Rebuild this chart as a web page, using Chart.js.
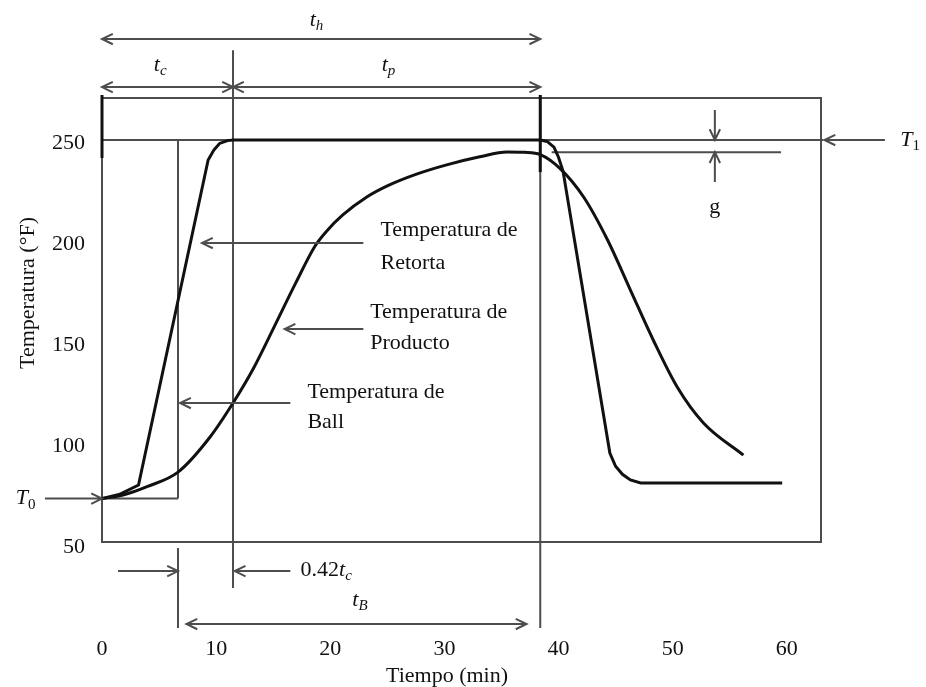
<!DOCTYPE html>
<html>
<head>
<meta charset="utf-8">
<script src="https://cdn.jsdelivr.net/npm/chart.js@4/dist/chart.umd.min.js"></script>
<style>
  html, body { margin: 0; background: #fff; }
</style>
</head>
<body>
<canvas id="grafica" width="926" height="687"></canvas>
<script>
// datos (tiempo en min, temperatura en °F)
const tiempoRetorta = [0, 1.5, 3.2, 9.3, 9.8, 10.3, 11.0, 11.5, 38.4, 39.0, 39.6, 40.0, 40.4, 44.5, 45.0, 45.6, 46.3, 47.2, 59.6];
const tempRetorta   = [74, 76, 80.7, 241.6, 246.5, 249.8, 251.2, 251.5, 251.5, 250.8, 248, 243, 236, 96.5, 90, 86, 83.2, 81.7, 81.7];

const tiempoProducto = [0, 2, 4, 6.66, 9.47, 11.48, 13.23, 15, 17, 18.67, 19.7, 21.1, 23.2, 25, 27.5, 30.2, 33.1, 35.5, 37, 38.4, 40.1, 42.2, 44.3, 46.3, 48.3, 50.4, 52.7, 56.2];
const tempProducto   = [74, 76, 80, 87.1, 104.5, 121.3, 138, 158, 181, 199, 206.5, 214.4, 223.3, 228.8, 234.5, 239.2, 243.2, 245.6, 245.4, 244.3, 237.6, 223.3, 202, 177.2, 152.5, 129.2, 111.4, 95.5];

const xTicks = [0, 10, 20, 30, 40, 50, 60];
const yTicks = [50, 100, 150, 200, 250];

// marcas de la figura
const T0 = 74, T1 = 251.5, Tg = 245.5;
const tBall = 6.66, tC = 11.48, tH = 38.4;

const serif = "'Liberation Serif', 'DejaVu Serif', serif";
const gris = "#4d4d4d";
const negro = "#111";

function flecha(ctx, x1, y1, x2, y2) {
    // linea con punta abierta en (x2, y2)
    ctx.beginPath();
    ctx.moveTo(x1, y1);
    ctx.lineTo(x2, y2);
    const a = Math.atan2(y2 - y1, x2 - x1);
    const l = 12;
    ctx.moveTo(x2 - l * Math.cos(a - 0.45), y2 - l * Math.sin(a - 0.45));
    ctx.lineTo(x2, y2);
    ctx.lineTo(x2 - l * Math.cos(a + 0.45), y2 - l * Math.sin(a + 0.45));
    ctx.stroke();
}

function flechaDoble(ctx, x1, y1, x2, y2) {
    flecha(ctx, x1, y1, x2, y2);
    flecha(ctx, x2, y2, x1, y1);
}

function linea(ctx, x1, y1, x2, y2) {
    ctx.beginPath();
    ctx.moveTo(x1, y1);
    ctx.lineTo(x2, y2);
    ctx.stroke();
}

// texto con subindice, centrado en x
function conSub(ctx, base, sub, x, y, italicSub, align) {
    ctx.font = "italic 22px " + serif;
    const w1 = ctx.measureText(base).width;
    ctx.font = (italicSub ? "italic " : "") + "15px " + serif;
    const w2 = ctx.measureText(sub).width;
    let x0 = align === "left" ? x : x - (w1 + w2) / 2;
    ctx.textAlign = "left";
    ctx.textBaseline = "middle";
    ctx.font = "italic 22px " + serif;
    ctx.fillText(base, x0, y);
    ctx.font = (italicSub ? "italic " : "") + "15px " + serif;
    ctx.fillText(sub, x0 + w1, y + 6);
}

const anotaciones = {
    id: "anotaciones",
    beforeDatasetsDraw(chart) {
        const ctx = chart.ctx;
        const a = chart.chartArea;
        const X = v => chart.scales.x.getPixelForValue(v);
        const Y = v => chart.scales.y.getPixelForValue(v);
        ctx.save();
        ctx.strokeStyle = gris;
        ctx.lineWidth = 2;
        ctx.strokeRect(a.left, a.top, a.right - a.left, a.bottom - a.top);

        // lineas de T1 y g
        linea(ctx, X(0), Y(T1), X(63.2), Y(T1));
        linea(ctx, X(39.4), Y(Tg), X(59.5), Y(Tg));

        // linea de Ball
        linea(ctx, X(tBall), Y(T1), X(tBall), Y(T0));
        linea(ctx, X(0), Y(T0), X(tBall), Y(T0));
        linea(ctx, X(tBall), Y(49.5), X(tBall), Y(9.9));

        // verticales tc y th
        linea(ctx, X(tC), Y(296), X(tC), Y(29.7));
        linea(ctx, X(tH), Y(273.8), X(tH), Y(9.9));
        ctx.restore();
    },
    afterDatasetsDraw(chart) {
        const ctx = chart.ctx;
        const X = v => chart.scales.x.getPixelForValue(v);
        const Y = v => chart.scales.y.getPixelForValue(v);
        ctx.save();
        ctx.strokeStyle = negro;
        ctx.lineWidth = 3;
        linea(ctx, X(0), Y(273.8), X(0), Y(242.6));
        linea(ctx, X(tH), Y(273.8), X(tH), Y(235.6));

        ctx.strokeStyle = gris;
        ctx.lineWidth = 2;
        // flechas superiores
        flechaDoble(ctx, X(0), Y(301.5), X(tH), Y(301.5));
        flechaDoble(ctx, X(0), Y(277.7), X(tC), Y(277.7));
        flechaDoble(ctx, X(tC), Y(277.7), X(tH), Y(277.7));

        // flechas inferiores
        flecha(ctx, X(1.4), Y(38.1), X(tBall), Y(38.1));
        flecha(ctx, X(16.5), Y(38.1), X(tC + 0.15), Y(38.1));
        flechaDoble(ctx, X(7.4), Y(11.9), X(37.2), Y(11.9));

        // T0 y T1
        flecha(ctx, X(-5), Y(T0), X(0), Y(T0));
        flecha(ctx, X(68.6), Y(T1), X(63.3), Y(T1));

        // g
        flecha(ctx, X(53.7), Y(266.3), X(53.7), Y(T1));
        flecha(ctx, X(53.7), Y(230.7), X(53.7), Y(Tg));

        // etiquetas de curvas
        flecha(ctx, X(22.9), Y(200.5), X(8.76), Y(200.5));
        flecha(ctx, X(22.9), Y(157.9), X(16.0), Y(157.9));
        flecha(ctx, X(16.5), Y(121.3), X(6.84), Y(121.3));

        ctx.fillStyle = negro;
        ctx.font = "22px " + serif;
        ctx.textAlign = "left";
        ctx.textBaseline = "middle";
        ctx.fillText("Temperatura de", X(24.4), Y(206.9));
        ctx.fillText("Retorta", X(24.4), Y(190.6));
        ctx.fillText("Temperatura de", X(23.5), Y(166.3));
        ctx.fillText("Producto", X(23.5), Y(151));
        ctx.fillText("Temperatura de", X(18.0), Y(126.7));
        ctx.fillText("Ball", X(18.0), Y(111.9));

        ctx.textAlign = "center";
        ctx.fillText("g", X(53.7), Y(218.3));

        conSub(ctx, "t", "h", X(18.8), Y(310.9), true);
        conSub(ctx, "t", "c", X(5.1), Y(288.6), true);
        conSub(ctx, "t", "p", X(25.1), Y(288.6), true);
        conSub(ctx, "t", "B", X(22.6), Y(23.8), true);
        conSub(ctx, "T", "0", X(-6.7), Y(T0), false);
        conSub(ctx, "T", "1", X(70.8), Y(T1), false);

        // 0.42tc
        ctx.font = "22px " + serif;
        ctx.textAlign = "left";
        const w = ctx.measureText("0.42").width;
        ctx.fillText("0.42", X(17.4), Y(38.6));
        conSub(ctx, "t", "c", X(17.4) + w, Y(38.6), true, "left");

        // titulos de ejes
        ctx.font = "22px " + serif;
        ctx.textAlign = "center";
        ctx.fillText("Tiempo (min)", 447, 676);
        ctx.translate(28, 293);
        ctx.rotate(-Math.PI / 2);
        ctx.fillText("Temperatura (°F)", 0, 0);
        ctx.restore();
    }
};

new Chart(document.getElementById("grafica"), {
    type: "line",
    data: {
        datasets: [
            {
                label: "Temperatura de Retorta",
                data: tiempoRetorta.map((t, i) => ({ x: t, y: tempRetorta[i] })),
                borderColor: negro,
                borderWidth: 3,
                pointRadius: 0,
                tension: 0,
                fill: false
            },
            {
                label: "Temperatura de Producto",
                data: tiempoProducto.map((t, i) => ({ x: t, y: tempProducto[i] })),
                borderColor: negro,
                borderWidth: 3,
                pointRadius: 0,
                cubicInterpolationMode: "monotone",
                fill: false
            }
        ]
    },
    options: {
        responsive: false,
        devicePixelRatio: 1,
        animation: false,
        layout: { padding: { top: 98, right: 105, left: 0, bottom: 0 } },
        plugins: {
            legend: { display: false },
            tooltip: { enabled: false }
        },
        scales: {
            x: {
                type: "linear",
                min: 0,
                max: 63,
                grid: { display: false, drawTicks: false },
                border: { display: false },
                afterBuildTicks: s => { s.ticks = xTicks.map(v => ({ value: v })); },
                afterFit: s => { s.height = 145; },
                ticks: {
                    padding: 94,
                    color: negro,
                    font: { family: serif, size: 22 }
                }
            },
            y: {
                min: 52.5,
                max: 272.3,
                grid: { display: false, drawTicks: false },
                border: { display: false },
                afterBuildTicks: s => { s.ticks = yTicks.map(v => ({ value: v })); },
                afterFit: s => { s.width = 102; },
                ticks: {
                    padding: 17,
                    color: negro,
                    font: { family: serif, size: 22 }
                }
            }
        }
    },
    plugins: [anotaciones]
});
</script>
</body>
</html>
